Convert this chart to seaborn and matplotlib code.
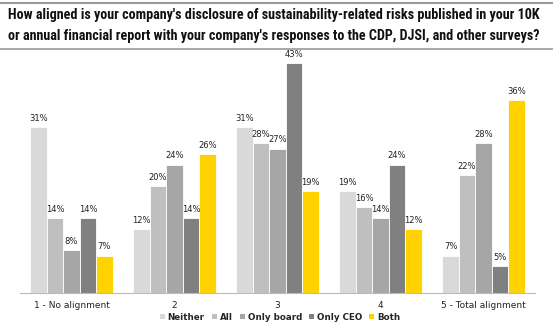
import matplotlib
matplotlib.use("Agg")
import matplotlib.pyplot as plt
import seaborn as sns
import pandas as pd
from matplotlib.lines import Line2D
from matplotlib.patches import Patch

categories = ["1 - No alignment", "2", "3", "4", "5 - Total alignment"]
series_names = ["Neither", "All", "Only board", "Only CEO", "Both"]
neither = [31, 12, 31, 19, 7]
all_ = [14, 20, 28, 16, 22]
only_board = [8, 24, 27, 14, 28]
only_ceo = [14, 14, 43, 24, 5]
both = [7, 26, 19, 12, 36]
colors = ["#d9d9d9", "#bfbfbf", "#a6a6a6", "#808080", "#ffd200"]

values = [neither, all_, only_board, only_ceo, both]
rows = []
for name, vals in zip(series_names, values):
    for c, v in zip(categories, vals):
        rows.append({"category": c, "series": name, "value": v})
df = pd.DataFrame(rows)

sns.set_style("white")
plt.rcParams["font.family"] = ["DejaVu Sans"]

fig = plt.figure(figsize=(5.53, 3.24), dpi=100)
W, H = 553, 324
ax = fig.add_axes([20 / W, 1 - 293 / H, (535 - 20) / W, (293 - 55) / H])

sns.barplot(data=df, x="category", y="value", hue="series", order=categories,
            hue_order=series_names, palette=colors, width=0.8, ax=ax,
            edgecolor="white", linewidth=0.6, legend=False, saturation=1)

for cont in ax.containers:
    ax.bar_label(cont, labels=[f"{int(v)}%" for v in cont.datavalues],
                 padding=3, fontsize=6, color="#222222")

ax.set_xlim(-0.5, 4.5)
ax.set_ylim(0, 44.5)
ax.set_xlabel("")
ax.set_ylabel("")
ax.set_yticks([])
for s in ["top", "right", "left"]:
    ax.spines[s].set_visible(False)
ax.spines["bottom"].set_color("#bbbbbb")
ax.spines["bottom"].set_linewidth(0.8)
ax.tick_params(axis="x", which="major", length=0, labelsize=6.5, pad=6, colors="#222222")
ax.set_xticks([i - 0.5 for i in range(6)], minor=True)
ax.tick_params(axis="x", which="minor", length=3, color="#bbbbbb", direction="out")

# legend
handles = [Patch(facecolor=c, edgecolor="none") for c in colors]
fig.legend(handles, series_names, loc="center", bbox_to_anchor=(280 / W, 1 - 317 / H),
           ncol=5, frameon=False, fontsize=6.3, handlelength=0.6, handleheight=0.6,
           handletextpad=0.3, columnspacing=0.8, prop={"weight": "bold", "size": 6.3})

# title lines
fig.add_artist(Line2D([0, 1], [1 - 3 / H, 1 - 3 / H], color="#999999", linewidth=1.5))
fig.add_artist(Line2D([0, 1], [1 - 49 / H, 1 - 49 / H], color="#999999", linewidth=1.2))
title_font = ["Liberation Sans Narrow", "Roboto Condensed", "DejaVu Sans"]
fig.text(8 / W, 1 - 15 / H,
         "How aligned is your company's disclosure of sustainability-related risks published in your 10K",
         ha="left", va="center", fontsize=10.2, fontweight="bold", family=title_font, color="#111111")
fig.text(8 / W, 1 - 36 / H,
         "or annual financial report with your company's responses to the CDP, DJSI, and other surveys?",
         ha="left", va="center", fontsize=10.2, fontweight="bold", family=title_font, color="#111111")

fig.savefig("out.png", dpi=100)
